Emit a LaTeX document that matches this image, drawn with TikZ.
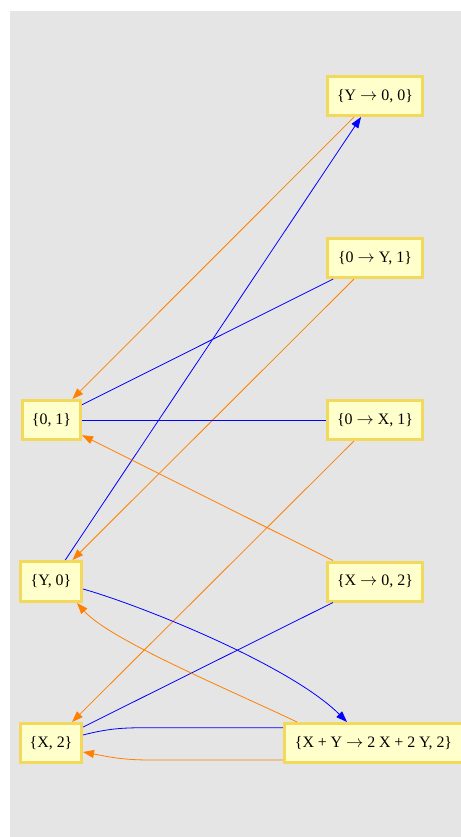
\documentclass[tikz,border=0pt]{standalone}
\usepackage{fontspec}
\setmainfont{Liberation Serif}
\usetikzlibrary{arrows.meta,calc}
\definecolor{bggray}{HTML}{E5E5E5}
\definecolor{boxfill}{HTML}{FFFFCC}
\definecolor{boxline}{HTML}{F2D95C}
\definecolor{edgeorange}{rgb}{1,0.5,0}
\newcommand{\rarr}{\ensuremath{\rightarrow}}
\newcommand{\tsp}{\hspace{0.24em}}
\begin{document}
\begin{tikzpicture}[x=1bp,y=-1bp,
  vbox/.style={draw=boxline,fill=boxfill,line width=3bp,inner sep=0pt,
    minimum height=39bp,font=\fontsize{16}{18}\selectfont},
  sub/.style={draw=blue,line width=0.8bp},
  subarr/.style={draw=blue,line width=0.8bp,-{Triangle[length=11bp,width=8bp]}},
  prod/.style={draw=edgeorange,line width=0.8bp,-{Triangle[length=11bp,width=8bp]}}]
\useasboundingbox (0,0) rectangle (461,837);
\fill[white] (0,0) rectangle (461,837);
\fill[bggray] (10,11) rectangle (461,837);
\begin{scope}
\clip (0,0) rectangle (461,837);
\node[vbox,minimum width=95bp] (R1) at (375,96) {\{Y \rarr{} 0, 0\}};
\node[vbox,minimum width=95bp] (R2) at (375,258) {\{0 \rarr{} Y, 1\}};
\node[vbox,minimum width=95bp] (R3) at (375,420) {\{0 \rarr{} X, 1\}};
\node[vbox,minimum width=95bp] (R4) at (375,581.5) {\{X \rarr{} 0, 2\}};
\node[vbox,minimum width=178bp] (R5) at (373.5,743) {\{X\tsp+\tsp Y \rarr{} 2\tsp X\tsp+\tsp 2\tsp Y, 2\}};
\node[vbox,minimum width=58bp] (S1) at (51.5,420) {\{0, 1\}};
\node[vbox,minimum width=61bp,minimum height=40bp] (S2) at (51,581.5) {\{Y, 0\}};
\node[vbox,minimum width=61bp] (S3) at (51,743) {\{X, 2\}};

\draw[subarr] (S2) -- (R1);
\draw[prod] (R1) -- (S1);
\draw[sub] (R2) -- (S1);
\draw[prod] (R2) -- (S2);
\draw[sub] (S1) -- (R3);
\draw[prod] (R3) -- (S3);
\draw[prod] (R4) -- (S1);
\draw[sub] (R4) -- (S3);
\draw[subarr] ($(S2.east)+(0,7.5)$) .. controls (140,605) and (290,665) .. ($(R5.north)+(-26.5,0)$);
\draw[prod] ($(R5.north)+(-76.5,0)$) .. controls (230,690) and (110,640) .. ($(S2.south)+(26,0)$);
\draw[sub] ($(S3.east)+(0,-8)$) .. controls (110,728) and (125,727.7) .. (150,727.7) -- ($(R5.west)+(0,-15.3)$);
\draw[prod] ($(R5.west)+(0,17)$) -- (150,760) .. controls (120,760) and (105,756) .. ($(S3.east)+(0,9)$);
\end{scope}
\end{tikzpicture}
\end{document}
